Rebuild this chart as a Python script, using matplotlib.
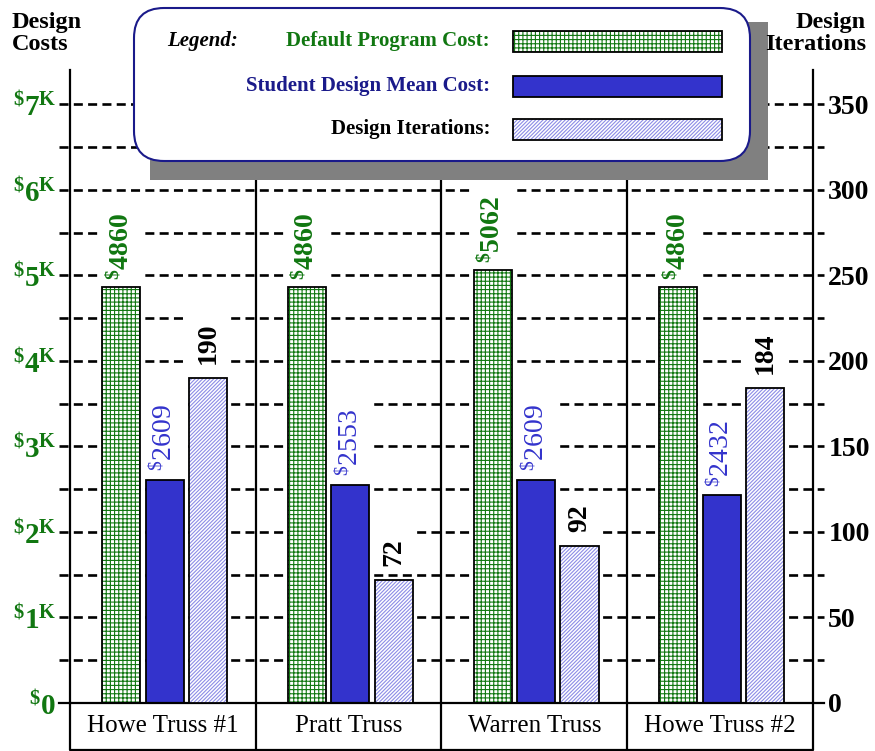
import matplotlib
matplotlib.use('Agg')
import matplotlib.pyplot as plt
from matplotlib import transforms
from matplotlib.patches import FancyBboxPatch, Rectangle
import numpy as np

plt.rcParams['font.family'] = ['Liberation Serif', 'DejaVu Serif']
plt.rcParams['mathtext.fontset'] = 'custom'
plt.rcParams['mathtext.rm'] = 'Liberation Serif'
plt.rcParams['mathtext.bf'] = 'Liberation Serif:bold'
plt.rcParams['mathtext.it'] = 'Liberation Serif:italic'
plt.rcParams['hatch.linewidth'] = 0.8
plt.rcParams['lines.scale_dashes'] = False

# Data
categories = ['Howe Truss #1', 'Pratt Truss', 'Warren Truss', 'Howe Truss #2']
default_cost = [4860, 4860, 5062, 4860]
student_cost = [2609, 2553, 2609, 2432]
iterations = [190, 72, 92, 184]

cost_ticks = [0, 1000, 2000, 3000, 4000, 5000, 6000, 7000]
iter_ticks = [0, 50, 100, 150, 200, 250, 300, 350]

GREEN = '#117711'
BLUE = '#3333cc'
NAVY = '#1a1a8a'
ITER_HATCH = '#8c8ce6'
GREEN_HATCH = '++++'
ITER_PATTERN = '/////////'


def hatched_bar(axis, xpos, height, width, hatch, hatch_color):
    # hatch drawn in its own colour, outline drawn separately in black
    axis.bar(xpos, height, width, color='white', edgecolor=hatch_color,
             hatch=hatch, lw=0, zorder=2)
    axis.bar(xpos, height, width, fill=False, edgecolor='black', lw=1.3, zorder=2.5)


fig = plt.figure(figsize=(8.75, 7.51), dpi=100)
ax = fig.add_axes([70 / 875, 48 / 751, 743 / 875, 633 / 751])
ax2 = ax.twinx()

x = np.arange(len(categories))
w = 0.205
ax.set_xlim(-0.5, len(categories) - 0.5)
ax.set_ylim(0, 7400)
ax2.set_ylim(0, 370)

# dashed guide lines every $500, running a little past both spines
gtrans = transforms.blended_transform_factory(ax.transAxes, ax.transData)
for v in np.arange(500, 7001, 500):
    ax.plot([-0.015, 1.015], [v, v], transform=gtrans, color='black', lw=1.9,
            dashes=(6.5, 3.8), clip_on=False, zorder=1)
ax.plot([-0.015, 1.015], [0, 0], transform=gtrans, color='black', lw=1.6,
        clip_on=False, zorder=4)

# bars
for xi, v in zip(x, default_cost):
    hatched_bar(ax, xi - 0.225, v, w, GREEN_HATCH, GREEN)
ax.bar(x + 0.009, student_cost, w, color=BLUE, edgecolor='black', lw=1.3, zorder=2)
for xi, v in zip(x, iterations):
    hatched_bar(ax2, xi + 0.243, v, w, ITER_PATTERN, ITER_HATCH)

# value labels
box = dict(fc='white', ec='none', pad=6)
for xi, v in zip(x, default_cost):
    ax.annotate(r'${}^{\mathbf{\$}}\mathbf{%d}$' % v, (xi - 0.225, v), xytext=(0, 5),
                textcoords='offset points', rotation=90, ha='center', va='bottom',
                fontsize=20, color=GREEN, bbox=box, zorder=1.5)
for xi, v in zip(x, student_cost):
    ax.annotate(r'${}^{\mathrm{\$}}\mathrm{%d}$' % v, (xi + 0.009, v), xytext=(0, 6),
                textcoords='offset points', rotation=90, ha='center', va='bottom',
                fontsize=20, color=BLUE, bbox=box, zorder=1.5)
for xi, v in zip(x, iterations):
    ax2.annotate('%d' % v, (xi + 0.243, v), xytext=(0, 10),
                 textcoords='offset points', rotation=90, ha='center', va='bottom',
                 fontsize=20, fontweight='bold', color='black', bbox=box, zorder=1.5)

# axes and tick labels
cost_labels = []
for t in cost_ticks:
    if t == 0:
        cost_labels.append(r'${}^{\mathbf{\$}}\mathbf{0}$')
    else:
        cost_labels.append(r'${}^{\mathbf{\$}}\mathbf{%d}^{\mathbf{K}}$' % (t // 1000))
ax.set_yticks(cost_ticks)
ax.set_yticklabels(cost_labels, color=GREEN, fontsize=21)
ax.tick_params(axis='y', length=0, pad=10)
ax.set_xticks([])

ax2.set_yticks(iter_ticks)
ax2.set_yticklabels([str(t) for t in iter_ticks], fontsize=20, fontweight='bold')
ax2.tick_params(axis='y', length=0, pad=11)

for s in ['top', 'bottom', 'right']:
    ax.spines[s].set_visible(False)
for s in ['top', 'bottom', 'left']:
    ax2.spines[s].set_visible(False)
ax.spines['left'].set_linewidth(1.6)
ax2.spines['right'].set_linewidth(1.6)

# category separators and the label boxes underneath
ctrans = transforms.blended_transform_factory(ax.transData, ax.transAxes)
for b in x[:-1] + 0.5:
    ax.plot([b, b], [-0.074, 1], transform=ctrans, color='black', lw=1.6,
            clip_on=False, zorder=3)
ax.plot([0, 0, 1, 1], [0, -0.074, -0.074, 0], transform=ax.transAxes,
        color='black', lw=1.6, clip_on=False, zorder=3)
for xi, name in zip(x, categories):
    ax.text(xi, -0.037, name, transform=ctrans, ha='center', va='center', fontsize=18)

# axis titles
inch = fig.dpi_scale_trans
H = 7.51
fig.text(0.12, H - 0.12, 'Design\nCosts', transform=inch, ha='left', va='top',
         fontsize=17.5, fontweight='bold', linespacing=1.08, zorder=8)
fig.text(8.66, H - 0.12, 'Design\nIterations', transform=inch, ha='right', va='top',
         multialignment='right', fontsize=17.5, fontweight='bold', linespacing=1.08,
         zorder=8)

# legend panel with drop shadow
fig.add_artist(Rectangle((1.50, H - 1.80), 6.18, 1.58, transform=inch,
                         fc='#808080', ec='none', zorder=5))
fig.add_artist(FancyBboxPatch((1.34, H - 1.61), 6.16, 1.53, transform=inch,
                              boxstyle='round,pad=0,rounding_size=0.3',
                              fc='white', ec=NAVY, lw=1.5, zorder=6))
fig.text(1.67, H - 0.41, 'Legend:', transform=inch, ha='left', va='center',
         fontsize=15, fontweight='bold', fontstyle='italic', zorder=7)

rows = [('Default Program Cost:', GREEN), ('Student Design Mean Cost:', NAVY),
        ('Design Iterations:', 'black')]
row_y = [0.41, 0.86, 1.29]
for (label, col), ry in zip(rows, row_y):
    fig.text(4.90, H - ry, label, transform=inch, ha='right', va='center',
             fontsize=15, fontweight='bold', color=col, zorder=7)

sw_x, sw_w, sw_h = 5.13, 2.09, 0.21
fig.add_artist(Rectangle((sw_x, H - row_y[0] - sw_h / 2), sw_w, sw_h, transform=inch,
                         fc='white', ec=GREEN, hatch=GREEN_HATCH, lw=0, zorder=7))
fig.add_artist(Rectangle((sw_x, H - row_y[0] - sw_h / 2), sw_w, sw_h, transform=inch,
                         fill=False, ec='black', lw=1.3, zorder=7.5))
fig.add_artist(Rectangle((sw_x, H - row_y[1] - sw_h / 2), sw_w, sw_h, transform=inch,
                         fc=BLUE, ec='black', lw=1.3, zorder=7))
fig.add_artist(Rectangle((sw_x, H - row_y[2] - sw_h / 2), sw_w, sw_h, transform=inch,
                         fc='white', ec=ITER_HATCH, hatch=ITER_PATTERN, lw=0, zorder=7))
fig.add_artist(Rectangle((sw_x, H - row_y[2] - sw_h / 2), sw_w, sw_h, transform=inch,
                         fill=False, ec='black', lw=1.3, zorder=7.5))

fig.savefig('out.png', dpi=100)
